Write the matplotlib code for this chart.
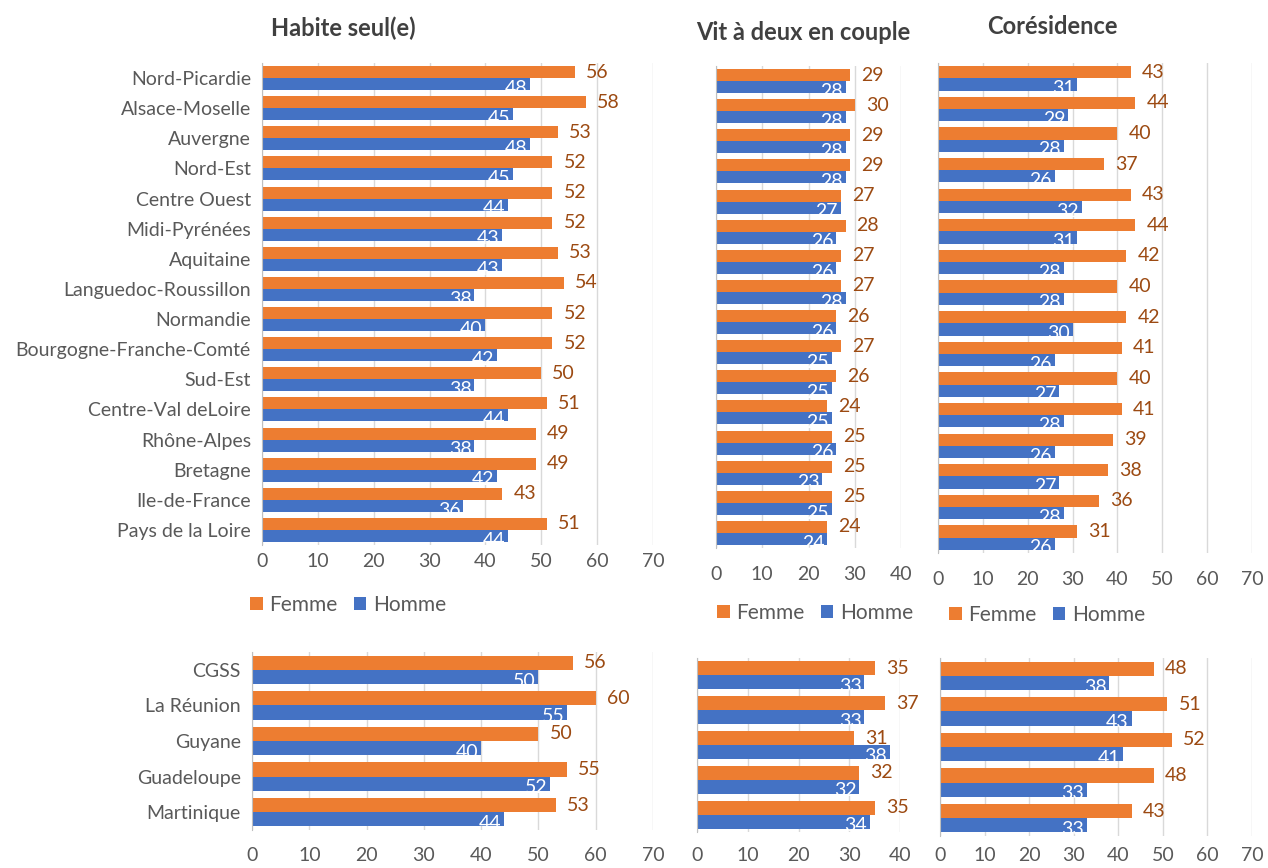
import matplotlib
matplotlib.use("Agg")
import matplotlib.pyplot as plt
import numpy as np

plt.rcParams['font.family'] = ['Lato', 'DejaVu Sans']

regions = ["Nord-Picardie", "Alsace-Moselle", "Auvergne", "Nord-Est", "Centre Ouest",
           "Midi-Pyrénées", "Aquitaine", "Languedoc-Roussillon", "Normandie",
           "Bourgogne-Franche-Comté", "Sud-Est", "Centre-Val deLoire", "Rhône-Alpes",
           "Bretagne", "Ile-de-France", "Pays de la Loire"]
dom = ["CGSS", "La Réunion", "Guyane", "Guadeloupe", "Martinique"]

seul_femme = [56, 58, 53, 52, 52, 52, 53, 54, 52, 52, 50, 51, 49, 49, 43, 51]
seul_homme = [48, 45, 48, 45, 44, 43, 43, 38, 40, 42, 38, 44, 38, 42, 36, 44]
couple_femme = [29, 30, 29, 29, 27, 28, 27, 27, 26, 27, 26, 24, 25, 25, 25, 24]
couple_homme = [28, 28, 28, 28, 27, 26, 26, 28, 26, 25, 25, 25, 26, 23, 25, 24]
cores_femme = [43, 44, 40, 37, 43, 44, 42, 40, 42, 41, 40, 41, 39, 38, 36, 31]
cores_homme = [31, 29, 28, 26, 32, 31, 28, 28, 30, 26, 27, 28, 26, 27, 28, 26]

dom_seul_femme = [56, 60, 50, 55, 53]
dom_seul_homme = [50, 55, 40, 52, 44]
dom_couple_femme = [35, 37, 31, 32, 35]
dom_couple_homme = [33, 33, 38, 32, 34]
dom_cores_femme = [48, 51, 52, 48, 43]
dom_cores_homme = [38, 43, 41, 33, 33]

ORANGE = "#ED7D31"
BLUE = "#4472C4"
LABEL_OR = "#9C4A12"
GRID = "#D9D9D9"
TXT = "#595959"

W, H = 1268, 868
fig = plt.figure(figsize=(12.68, 8.68), dpi=100)


def panel(x0, x1, ytop, ybot, xmax, cats, femme, homme, show_cats, pad):
    ax = fig.add_axes([x0 / W, 1 - ybot / H, (x1 - x0) / W, (ybot - ytop) / H])
    n = len(cats)
    y = np.arange(n)
    bf = ax.barh(y - 0.2, femme, height=0.4, color=ORANGE, label="Femme")
    bh = ax.barh(y + 0.2, homme, height=0.4, color=BLUE, label="Homme")
    for yi, v in zip(y, femme):
        ax.annotate(str(v), (v, yi - 0.2), xytext=(8, 0), textcoords="offset points",
                    va="center", ha="left", color=LABEL_OR, fontsize=14)
    for yi, v in zip(y, homme):
        ax.annotate(str(v), (v, yi + 0.2), xytext=(-2, -3), textcoords="offset points",
                    va="center", ha="right", color="white", fontsize=14)
    ax.set_xlim(0, xmax)
    ax.set_ylim(n - 0.5, -0.5)
    ax.set_xticks(np.arange(0, xmax + 1, 10))
    ax.grid(axis="x", color=GRID, linewidth=1)
    ax.set_axisbelow(True)
    for s in ["top", "right", "bottom"]:
        ax.spines[s].set_visible(False)
    ax.spines["left"].set_color("#BFBFBF")
    ax.tick_params(axis="x", length=0, labelsize=14, labelcolor=TXT, pad=pad)
    ax.tick_params(axis="y", length=0, labelsize=14, labelcolor=TXT, pad=8)
    if show_cats:
        ax.set_yticks(y)
        ax.set_yticklabels(cats)
    else:
        ax.set_yticks([])
    return ax, bf, bh


# top row
ax1, bf, bh = panel(262, 653, 63, 545, 70, regions, seul_femme, seul_homme, True, 6)
ax2, bf2, bh2 = panel(716, 901, 66, 548, 40, regions, couple_femme, couple_homme, False, 13)
ax3, bf3, bh3 = panel(938, 1252, 63, 553, 70, regions, cores_femme, cores_homme, False, 13)

# bottom row
panel(252, 653, 652, 830, 70, dom, dom_seul_femme, dom_seul_homme, True, 12)
panel(697, 900, 658, 832, 40, dom, dom_couple_femme, dom_couple_homme, False, 11)
panel(940, 1252, 658, 836, 70, dom, dom_cores_femme, dom_cores_homme, False, 8)

# titles
fig.text(343 / W, 1 - 28 / H, "Habite seul(e)", ha="center", va="center",
         fontsize=17, fontweight="bold", color="#404040")
fig.text(803 / W, 1 - 32 / H, "Vit à deux en couple", ha="center", va="center",
         fontsize=17, fontweight="bold", color="#404040")
fig.text(1052 / W, 1 - 27 / H, "Corésidence", ha="center", va="center",
         fontsize=17, fontweight="bold", color="#404040")

# legends
for (cx, cy), (a, b) in zip([(348, 605), (815, 613), (1047, 615)],
                            [(bf, bh), (bf2, bh2), (bf3, bh3)]):
    fig.legend([a, b], ["Femme", "Homme"], loc="center",
               bbox_to_anchor=(cx / W, 1 - cy / H), ncol=2, frameon=False,
               fontsize=15, handlelength=0.6, handleheight=0.6, handletextpad=0.3,
               columnspacing=0.8, labelcolor=TXT)

fig.savefig("out.png", dpi=100)
